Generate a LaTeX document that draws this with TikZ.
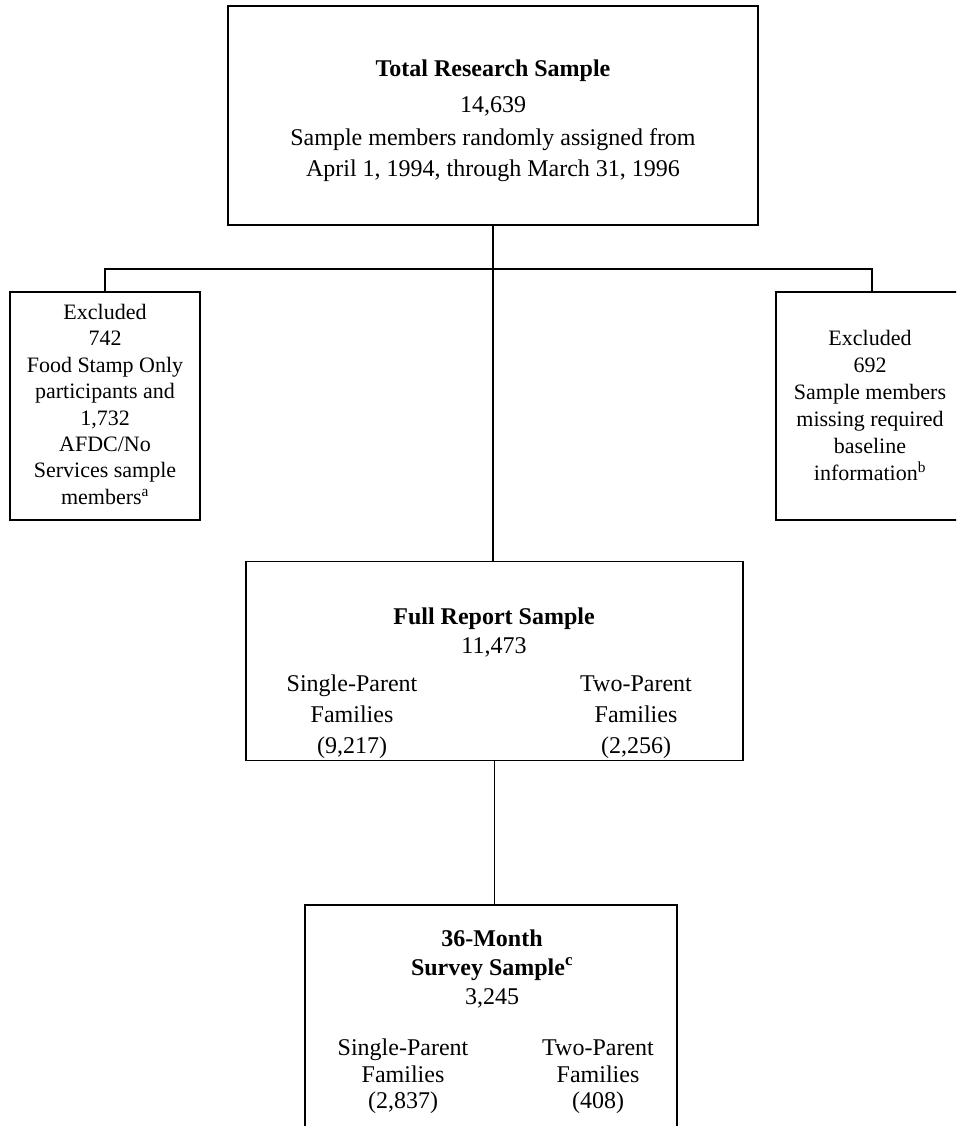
\documentclass[tikz,border=0pt]{standalone}
\usepackage{fontspec}
\setmainfont{Liberation Serif}
\begin{document}
\begin{tikzpicture}[x=1pt,y=-1pt,
  box/.style={draw, line width=1.6pt, inner sep=0pt},
  link/.style={line width=1.6pt},
  big/.style={anchor=base, inner sep=0pt, font=\fontsize{24}{29}\selectfont},
  small/.style={anchor=base, inner sep=0pt, font=\fontsize{22}{26}\selectfont}]
\useasboundingbox (0,0) rectangle (956,1126);
\clip (0,0) rectangle (956,1126);

% boxes
\node[box, minimum width=530pt, minimum height=219pt] (top) at (493,115.5) {};
\node[box, minimum width=190pt, minimum height=228pt] (left) at (105,406) {};
\node[box, minimum width=192pt, minimum height=228pt] (right) at (872,406) {};
\node[box, minimum width=497pt, minimum height=199pt] (mid) at (494.5,661) {};
\node[box, minimum width=372pt, minimum height=240pt] (bot) at (491,1025) {};

% connectors
\draw[link] (top.south) -- (top.south |- mid.north);
\draw[link] (left.north) -- ++(0,-22) -| (right.north);
\draw[link] (mid.south) -- (mid.south |- bot.north);

% total research sample
\node[big] (t1) at (493,77) {\bfseries Total Research Sample};
\node[big] (t2) at (493,113) {14,639};
\node[big] (t3) at (493,146) {Sample members randomly assigned from};
\node[big] (t4) at (493,177) {April 1, 1994, through March 31, 1996};

% excluded, left
\node[small] (l1) at (105,319.5) {Excluded};
\node[small] (l2) at (105,345.9) {742};
\node[small] (l3) at (105,372.3) {Food Stamp Only};
\node[small] (l4) at (105,398.7) {participants and};
\node[small] (l5) at (105,425.1) {1,732};
\node[small] (l6) at (105,451.5) {AFDC/No};
\node[small] (l7) at (105,477.9) {Services sample};
\node[small] (l8) at (105,504.3) {members\textsuperscript{a}};

% excluded, right
\node[small] (r1) at (870,345.5) {Excluded};
\node[small] (r2) at (870,372.5) {692};
\node[small] (r3) at (870,399.5) {Sample members};
\node[small] (r4) at (870,426.5) {missing required};
\node[small] (r5) at (870,453.5) {baseline};
\node[small] (r6) at (870,480.5) {information\textsuperscript{b}};

% full report sample
\node[big] (m1) at (494,624) {\bfseries Full Report Sample};
\node[big] (m2) at (494,653) {11,473};
\node[big] (m3) at (352,691) {Single-Parent};
\node[big] (m4) at (352,722) {Families};
\node[big] (m5) at (352,753) {(9,217)};
\node[big] (m6) at (636,691) {Two-Parent};
\node[big] (m7) at (636,722) {Families};
\node[big] (m8) at (636,753) {(2,256)};

% 36-month survey sample
\node[big] (b1) at (492,946) {\bfseries 36-Month};
\node[big] (b2) at (492,975) {\bfseries Survey Sample\textsuperscript{c}};
\node[big] (b3) at (492,1004) {3,245};
\node[big] (b4) at (403,1055) {Single-Parent};
\node[big] (b5) at (403,1082) {Families};
\node[big] (b6) at (403,1108) {(2,837)};
\node[big] (b7) at (598,1055) {Two-Parent};
\node[big] (b8) at (598,1082) {Families};
\node[big] (b9) at (598,1108) {(408)};
\end{tikzpicture}
\end{document}
